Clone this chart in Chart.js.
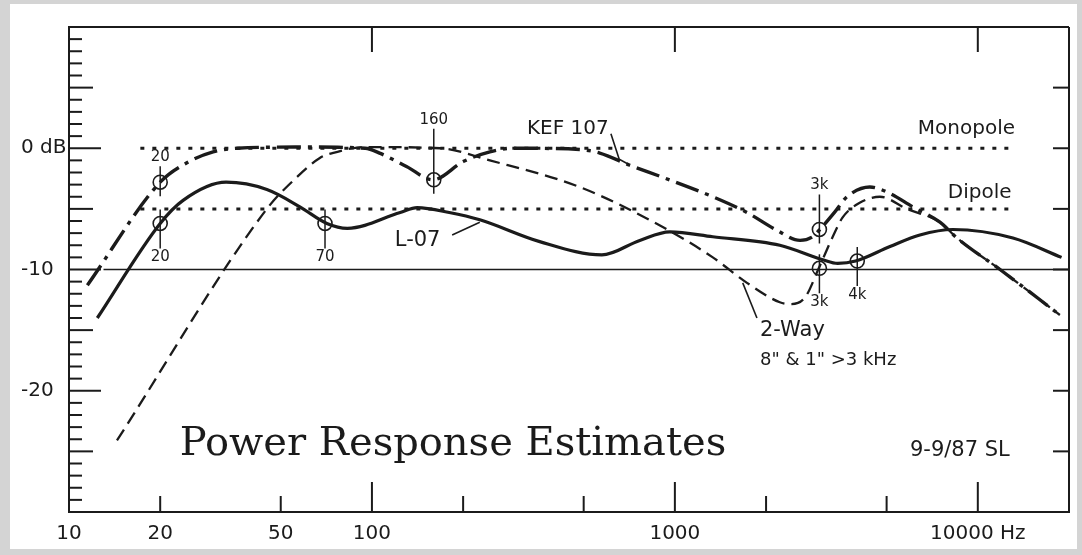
<!DOCTYPE html>
<html>
<head>
<meta charset="utf-8">
<title>Power Response Estimates</title>
<script src="https://cdn.jsdelivr.net/npm/chart.js@4/dist/chart.umd.min.js"></script>
<style>
    html, body { margin: 0; padding: 0; background: #d4d4d4; }
    #wrap { width: 1082px; height: 555px; }
</style>
</head>
<body>
<div id="wrap"><canvas id="powerChart"></canvas></div>
<script>
'use strict'

// values: frequency in Hz, level in dB
const l07Freq = [12.4, 20, 23.8, 33, 45, 58, 71, 83, 124, 141, 180, 227, 358, 574, 766, 962, 1334, 2220, 3080, 3450, 3950, 5130, 6440, 8280, 13060, 18900];
const l07Db = [-14.0, -6.2, -4.3, -2.8, -3.4, -4.85, -6.2, -6.6, -5.3, -4.9, -5.3, -5.9, -7.7, -8.8, -7.6, -6.9, -7.3, -8.0, -9.2, -9.5, -9.3, -8.1, -7.15, -6.7, -7.4, -9.0];

const kefFreq = [11.5, 20, 24.5, 29.9, 36, 60, 95, 106, 130, 159, 200, 245, 292, 485, 565, 710, 912, 1334, 1730, 2150, 2590, 2850, 3010, 3375, 3700, 4400, 5010, 6110, 7500, 8530, 11840, 18660];
const kefDb = [-11.3, -2.8, -1.2, -0.3, 0, 0.1, 0, -0.4, -1.5, -2.6, -1.1, -0.3, 0, -0.1, -0.4, -1.4, -2.4, -4.0, -5.3, -6.7, -7.6, -7.3, -6.7, -5.25, -4.0, -3.2, -3.6, -4.85, -6.1, -7.4, -10.0, -13.75];

const twoWayFreq = [14.4, 45, 54.8, 67.3, 74, 96, 168, 245, 485, 912, 1334, 1730, 2220, 2400, 2690, 2985, 3320, 3580, 4075, 4750, 5830, 7500, 8530, 11840, 18660];
const twoWayDb = [-24.1, -5.0, -2.7, -0.8, -0.4, 0.1, 0, -1.0, -3.2, -6.5, -9.0, -11.1, -12.7, -12.85, -12.3, -9.9, -7.3, -5.7, -4.5, -4.0, -5.0, -6.1, -7.4, -10.0, -13.75];

const monopoleFreq = [17.2, 12800];
const monopoleDb = [0, 0];
const dipoleFreq = [17.2, 12800];
const dipoleDb = [-5, -5];
const refFreq = [13, 20000];
const refDb = [-10, -10];

// circled measurement points
const markFreq = [20, 20, 70, 160, 3000, 3000, 4000];
const markDb = [-2.8, -6.2, -6.2, -2.6, -6.7, -9.9, -9.3];
const markText = ['20', '20', '70', '160', '3k', '3k', '4k'];
const markSide = ['up', 'down', 'down', 'up', 'up', 'down', 'down'];

// axes
const xTicks = [10, 20, 50, 100, 200, 500, 1000, 2000, 5000, 10000, 20000];
const xTickText = ['10', '20', '50', '100', '', '', '1000', '', '', '10000 Hz', ''];
const yTicks = [0, -10, -20];
const yTickText = ['0 dB', '-10', '-20'];

const ink = '#1b1b1b';
const sans = '"DejaVu Sans", "Liberation Sans", sans-serif';

function pairs(xs, ys) {
    return xs.map((v, i) => ({ x: v, y: ys[i] }));
}

// frame, inner ticks, labels, leaders
const decorPlugin = {
    id: 'decor',
    beforeDraw(chart) {
        const ctx = chart.ctx;
        ctx.save();
        ctx.fillStyle = '#d4d4d4';
        ctx.fillRect(0, 0, chart.width, chart.height);
        ctx.fillStyle = '#ffffff';
        ctx.fillRect(10, 4, 1067, 545);
        ctx.restore();
    },
    afterDraw(chart) {
        const ctx = chart.ctx;
        const { left, right, top, bottom } = chart.chartArea;
        const sx = chart.scales.x, sy = chart.scales.y;
        const seg = (x1, y1, x2, y2) => { ctx.beginPath(); ctx.moveTo(x1, y1); ctx.lineTo(x2, y2); ctx.stroke(); };

        ctx.save();
        ctx.strokeStyle = ink;
        ctx.lineWidth = 2;
        seg(left, top, right, top);
        seg(right, top, right, bottom);

        for (let d = -29; d <= 9; d++) {
            const len = d % 10 === 0 ? 32 : (d % 5 === 0 ? 24 : 13);
            const py = sy.getPixelForValue(d);
            seg(left, py, left + len, py);
        }
        for (let d = -25; d <= 5; d += 5) {
            const py = sy.getPixelForValue(d);
            seg(right - 16, py, right, py);
        }
        [100, 1000, 10000].forEach(f => {
            const px = sx.getPixelForValue(f);
            seg(px, top, px, top + 25);
        });
        xTicks.slice(1, -1).forEach(f => {
            const px = sx.getPixelForValue(f);
            const decade = Math.log10(f) % 1 === 0;
            seg(px, bottom, px, bottom - (decade ? 30 : 16));
        });

        // leader lines to the curves
        ctx.lineWidth = 1.6;
        const leaders = [
            [[615, 1.2], [655, -0.9], [700, -1.3]],
            [[184, -7.15], [227, -6.1]],
            [[1675, -11.1], [1866, -14.0]]
        ];
        leaders.forEach(pts => {
            ctx.beginPath();
            pts.forEach((p, i) => {
                const px = sx.getPixelForValue(p[0]), py = sy.getPixelForValue(p[1]);
                if (i === 0) ctx.moveTo(px, py); else ctx.lineTo(px, py);
            });
            ctx.stroke();
        });

        // marker stems and labels
        ctx.lineWidth = 1.5;
        ctx.fillStyle = ink;
        ctx.font = '15px ' + sans;
        ctx.textAlign = 'center';
        ctx.textBaseline = 'middle';
        const lift = { '160': 60, '3k': 44 };
        markFreq.forEach((f, i) => {
            const px = sx.getPixelForValue(f), py = sy.getPixelForValue(markDb[i]);
            const up = markSide[i] === 'up';
            const off = up ? -(lift[markText[i]] || 25) : 34;
            const ly = py + off;
            seg(px, ly + (up ? 9 : -9), px, py + (up ? 14 : -14));
            ctx.fillText(markText[i], px, ly);
        });

        // curve names and notes
        const notes = [
            { text: 'Monopole', f: 6340, db: 1.6, size: 20 },
            { text: 'Dipole', f: 7960, db: -3.7, size: 20 },
            { text: 'KEF 107', f: 325, db: 1.6, size: 20 },
            { text: 'L-07', f: 119, db: -7.6, size: 21 },
            { text: '2-Way', f: 1910, db: -15.0, size: 21 },
            { text: '8" & 1" >3 kHz', f: 1910, db: -17.5, size: 18 },
            { text: '9-9/87 SL', f: 5970, db: -24.9, size: 21 }
        ];
        ctx.textAlign = 'left';
        notes.forEach(n => {
            ctx.font = n.size + 'px ' + sans;
            ctx.fillText(n.text, sx.getPixelForValue(n.f), sy.getPixelForValue(n.db));
        });
        ctx.font = '40px "DejaVu Serif", "Liberation Serif", serif';
        ctx.textBaseline = 'alphabetic';
        ctx.fillText('Power Response Estimates', sx.getPixelForValue(23.2), sy.getPixelForValue(-25.3));
        ctx.restore();
    }
};

const lineBase = {
    borderColor: ink,
    pointRadius: 0,
    fill: false,
    cubicInterpolationMode: 'monotone'
};

new Chart(document.getElementById('powerChart'), {
    type: 'line',
    data: {
        datasets: [
            {
                label: 'marks',
                data: pairs(markFreq, markDb),
                showLine: false,
                pointStyle: 'circle',
                pointRadius: 7,
                pointBorderWidth: 1.6,
                pointBorderColor: ink,
                pointBackgroundColor: 'rgba(0,0,0,0)'
            },
            Object.assign({ label: 'L-07', data: pairs(l07Freq, l07Db), borderWidth: 3.2 }, lineBase),
            Object.assign({ label: 'KEF 107', data: pairs(kefFreq, kefDb), borderWidth: 3.4, borderDash: [24, 7, 4, 7] }, lineBase),
            Object.assign({ label: '2-Way', data: pairs(twoWayFreq, twoWayDb), borderWidth: 2.3, borderDash: [13, 7] }, lineBase),
            Object.assign({ label: 'Monopole', data: pairs(monopoleFreq, monopoleDb), borderWidth: 3, borderDash: [4, 8] }, lineBase),
            Object.assign({ label: 'Dipole', data: pairs(dipoleFreq, dipoleDb), borderWidth: 3, borderDash: [4, 8] }, lineBase),
            Object.assign({ label: '-10 dB', data: pairs(refFreq, refDb), borderWidth: 1.4, borderColor: '#444' }, lineBase)
        ]
    },
    options: {
        responsive: true,
        maintainAspectRatio: false,
        animation: false,
        layout: { padding: { left: 21, top: 27, right: 13, bottom: 0 } },
        plugins: {
            legend: { display: false },
            tooltip: { enabled: false }
        },
        scales: {
            x: {
                type: 'logarithmic',
                min: 10,
                max: 20000,
                grid: { display: false, drawTicks: false },
                border: { display: true, color: ink, width: 2 },
                afterBuildTicks: scale => { scale.ticks = xTicks.map(v => ({ value: v })); },
                afterFit: scale => { scale.height = 43; },
                ticks: {
                    autoSkip: false,
                    maxRotation: 0,
                    padding: 10,
                    color: ink,
                    font: { family: sans, size: 20 },
                    callback: (value) => xTickText[xTicks.indexOf(value)] || ''
                }
            },
            y: {
                type: 'linear',
                min: -30,
                max: 10,
                grid: { display: false, drawTicks: false },
                border: { display: true, color: ink, width: 2 },
                afterBuildTicks: scale => { scale.ticks = yTicks.map(v => ({ value: v })); },
                afterFit: scale => { scale.width = 48; },
                ticks: {
                    crossAlign: 'far',
                    padding: 8,
                    color: ink,
                    font: { family: sans, size: 20 },
                    callback: (value) => yTickText[yTicks.indexOf(value)] || ''
                }
            }
        }
    },
    plugins: [decorPlugin]
});
</script>
</body>
</html>
